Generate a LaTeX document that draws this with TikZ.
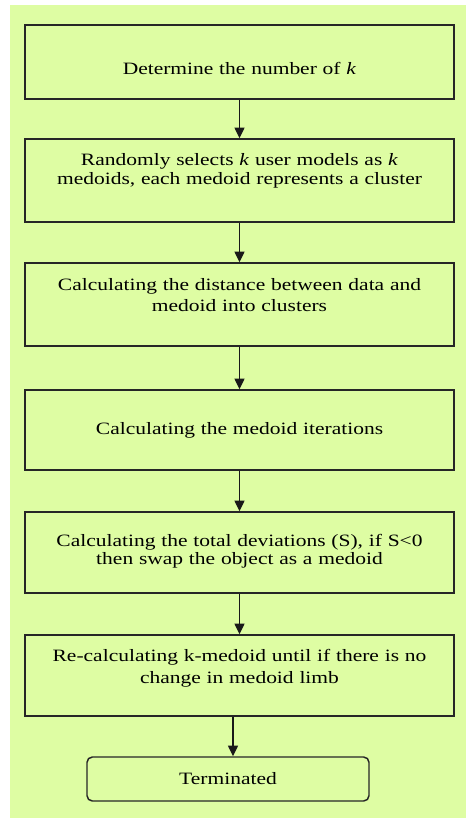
\documentclass[tikz,border=0pt]{standalone}
\usepackage{fontspec}
\setmainfont[FakeStretch=1.24]{Liberation Serif}
\usetikzlibrary{arrows.meta}
\definecolor{panel}{RGB}{222,253,163}
\tikzset{
  stepbox/.style={draw=black!85, line width=1.1pt, fill=panel, inner sep=0pt,
    minimum width=321.75pt, text width=321.75pt, align=center,
    font=\fontsize{13pt}{14pt}\selectfont},
  endbox/.style={stepbox, rounded corners=4pt, minimum width=211.5pt, text width=211.5pt,
    minimum height=33pt},
  flow/.style={draw=black!90, line width=1pt, -{Stealth[inset=0pt,length=8pt,width=7.5pt]}}
}
\begin{document}
\begin{tikzpicture}[x=0.75pt,y=-0.75pt]
\useasboundingbox (0,0) rectangle (466,818);
\fill[panel] (10,5) rectangle (466,818);
% Pasos
\node[stepbox, minimum height=55.5pt, text height=18.9pt, text depth=0pt] (b1) at (239.5,62)
  {Determine the number of \textit{k}};
\node[stepbox, minimum height=62.25pt, text height=9pt, text depth=31.5pt] (b2) at (239.5,180.5)
  {Randomly selects \textit{k} user models as \textit{k}\\ medoids, each medoid represents a cluster};
\node[stepbox, minimum height=62.25pt, text height=9pt, text depth=30pt] (b3) at (239.5,304.5)
  {Calculating the distance between data and\\[1.5pt] medoid into clusters};
\node[stepbox, minimum height=60pt] (b4) at (239.5,430)
  {Calculating the medoid iterations};
\node[stepbox, minimum height=60.75pt, text height=9pt, text depth=18.75pt] (b5) at (239.5,552.5)
  {Calculating the total deviations (S), if S<0\\ then swap the object as a medoid};
\node[stepbox, minimum height=60.75pt, text height=9pt, text depth=30.75pt] (b6) at (239.5,675.5)
  {Re-calculating k-medoid until if there is no\\[3pt] change in medoid limb};
\node[endbox] (t) at (228,779) {Terminated};
% Flechas
\draw[flow] (b1) -- (b2);
\draw[flow] (b2) -- (b3);
\draw[flow] (b3) -- (b4);
\draw[flow] (b4) -- (b5);
\draw[flow] (b5) -- (b6);
\draw[flow] ([xshift=3.75pt]b6.south -| t.north) -- ([xshift=3.75pt]t.north);
\end{tikzpicture}
\end{document}
